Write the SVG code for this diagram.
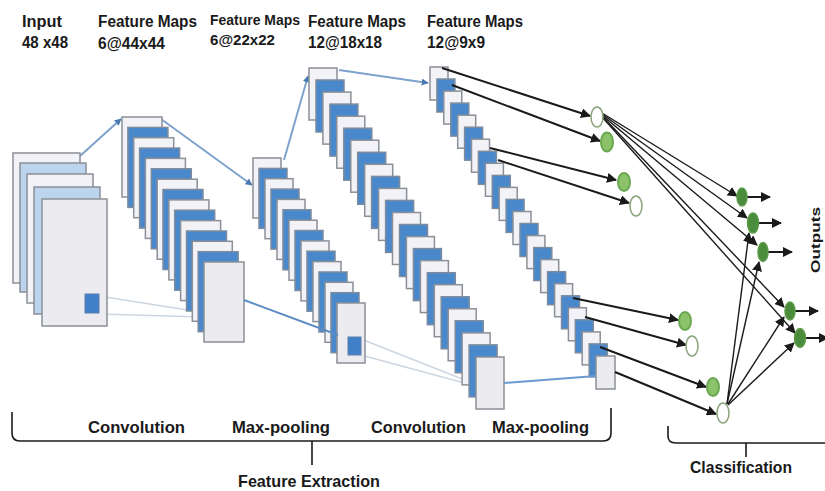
<svg xmlns="http://www.w3.org/2000/svg" width="825" height="491" viewBox="0 0 825 491">
<defs>
<style>
.t{font-family:"Liberation Sans Narrow","Liberation Sans",Arial,sans-serif;font-weight:bold;fill:#1a1a1a}
.w{fill:#f3f3f7;stroke:#8a9098;stroke-width:1.5}
.b{fill:#4a88cc;stroke:#7c8c9e;stroke-width:1.5}
.lb{fill:#bcd4ee;stroke:#8a9098;stroke-width:1.5}
.g{fill:#ececf0;stroke:#8a9098;stroke-width:1.5}
.sq{fill:#3f80c8;stroke:#5a7fa8;stroke-width:1}
.con{fill:none;stroke:#7ea2cc;stroke-width:2}
.faint{fill:none;stroke:#cdd6e0;stroke-width:1.5}
.blk{fill:none;stroke:#1a1a1a;stroke-width:2}
.thin{fill:none;stroke:#1a1a1a;stroke-width:1.4}
.nw{fill:#ffffff;stroke:#8aa47a;stroke-width:1.5}
.ng{fill:#8cc26a;stroke:#6aa850;stroke-width:2}
.no{fill:#4a8c3c;stroke:#5b9a48;stroke-width:1.5}
.br{fill:none;stroke:#1a1a1a;stroke-width:1.6}
</style>
<marker id="ab" viewBox="0 0 10 10" refX="9" refY="5" markerWidth="10" markerHeight="10" markerUnits="userSpaceOnUse" orient="auto"><path d="M0,0 L10,5 L0,10 z" fill="#1a1a1a"/></marker>
<marker id="abl" viewBox="0 0 10 10" refX="9" refY="5" markerWidth="7" markerHeight="7" markerUnits="userSpaceOnUse" orient="auto"><path d="M0,0 L10,5 L0,10 z" fill="#4a78b0"/></marker>
</defs>
<rect width="825" height="491" fill="#ffffff"/>

<g id="labels-top">
<text class="t" x="22" y="27" font-size="16" textLength="40" lengthAdjust="spacingAndGlyphs">Input</text>
<text class="t" x="22" y="48" font-size="16" textLength="46" lengthAdjust="spacingAndGlyphs">48 x48</text>
<text class="t" x="98" y="27" font-size="16" textLength="99" lengthAdjust="spacingAndGlyphs">Feature Maps</text>
<text class="t" x="98" y="49" font-size="16" textLength="67" lengthAdjust="spacingAndGlyphs">6@44x44</text>
<text class="t" x="210" y="25" font-size="14" textLength="90" lengthAdjust="spacingAndGlyphs">Feature Maps</text>
<text class="t" x="210" y="45" font-size="14" textLength="65" lengthAdjust="spacingAndGlyphs">6@22x22</text>
<text class="t" x="308" y="27" font-size="16" textLength="98" lengthAdjust="spacingAndGlyphs">Feature Maps</text>
<text class="t" x="308" y="48" font-size="16" textLength="74" lengthAdjust="spacingAndGlyphs">12@18x18</text>
<text class="t" x="427" y="27" font-size="16" textLength="96" lengthAdjust="spacingAndGlyphs">Feature Maps</text>
<text class="t" x="427" y="48" font-size="16" textLength="58" lengthAdjust="spacingAndGlyphs">12@9x9</text>
</g>

<g id="connectors">
<line class="faint" x1="99" y1="296" x2="238" y2="318"/>
<line class="faint" x1="99" y1="314" x2="238" y2="318"/>
<line class="faint" x1="361" y1="339" x2="490" y2="390"/>
<line class="faint" x1="361" y1="355" x2="490" y2="390"/>
<line class="con" x1="80" y1="156" x2="121" y2="119" marker-end="url(#abl)"/>
<line class="con" x1="161" y1="119" x2="252" y2="185" marker-end="url(#abl)"/>
<line class="con" x1="284" y1="160" x2="308" y2="76" marker-end="url(#abl)"/>
<line class="con" x1="339" y1="70" x2="428" y2="83" marker-end="url(#abl)"/>
</g>

<g id="input">
<rect class="w" x="13" y="153" width="67" height="130"/>
<rect class="lb" x="20" y="163" width="66" height="129"/>
<rect class="w" x="27" y="174" width="66" height="129"/>
<rect class="lb" x="34" y="187" width="66" height="127"/>
<rect class="g" x="42" y="199" width="65" height="127"/>
<rect class="sq" x="85" y="294" width="14" height="19"/>
</g>

<g id="conv1">
<rect class="w" x="122" y="117" width="40" height="80"/>
<rect class="b" x="127.9" y="127.4" width="40" height="80"/>
<rect class="w" x="133.7" y="137.7" width="40" height="80"/>
<rect class="b" x="139.6" y="148.1" width="40" height="80"/>
<rect class="w" x="145.4" y="158.4" width="40" height="80"/>
<rect class="b" x="151.3" y="168.8" width="40" height="80"/>
<rect class="w" x="157.2" y="179.2" width="40" height="80"/>
<rect class="b" x="163" y="189.5" width="40" height="80"/>
<rect class="w" x="168.9" y="199.9" width="40" height="80"/>
<rect class="b" x="174.7" y="210.2" width="40" height="80"/>
<rect class="w" x="180.6" y="220.6" width="40" height="80"/>
<rect class="b" x="186.5" y="231" width="40" height="80"/>
<rect class="w" x="192.3" y="241.3" width="40" height="80"/>
<rect class="b" x="198.2" y="251.7" width="40" height="80"/>
<rect class="g" x="204" y="262" width="40" height="80"/>
</g>

<g id="pool1">
<rect class="w" x="253" y="158" width="28" height="60"/>
<rect class="b" x="259" y="168.4" width="28" height="60"/>
<rect class="w" x="265" y="178.7" width="28" height="60"/>
<rect class="b" x="271" y="189.1" width="28" height="60"/>
<rect class="w" x="277" y="199.4" width="28" height="60"/>
<rect class="b" x="283" y="209.8" width="28" height="60"/>
<rect class="w" x="289" y="220.2" width="28" height="60"/>
<rect class="b" x="295" y="230.5" width="28" height="60"/>
<rect class="w" x="301" y="240.9" width="28" height="60"/>
<rect class="b" x="307" y="251.2" width="28" height="60"/>
<rect class="w" x="313" y="261.6" width="28" height="60"/>
<rect class="b" x="319" y="272" width="28" height="60"/>
<rect class="w" x="325" y="282.3" width="28" height="60"/>
<rect class="b" x="331" y="292.7" width="28" height="60"/>
<rect class="g" x="337" y="303" width="28" height="60"/>
<rect class="sq" x="348" y="337" width="13" height="18"/>
</g>

<g id="conv2">
<rect class="w" x="309" y="68" width="28" height="52"/>
<rect class="b" x="316" y="80" width="28" height="52"/>
<rect class="w" x="322.9" y="92.1" width="28" height="52"/>
<rect class="b" x="329.9" y="104.1" width="28" height="52"/>
<rect class="w" x="336.8" y="116.2" width="28" height="52"/>
<rect class="b" x="343.8" y="128.2" width="28" height="52"/>
<rect class="w" x="350.8" y="140.2" width="28" height="52"/>
<rect class="b" x="357.7" y="152.3" width="28" height="52"/>
<rect class="w" x="364.7" y="164.3" width="28" height="52"/>
<rect class="b" x="371.6" y="176.4" width="28" height="52"/>
<rect class="w" x="378.6" y="188.4" width="28" height="52"/>
<rect class="b" x="385.6" y="200.4" width="28" height="52"/>
<rect class="w" x="392.5" y="212.5" width="28" height="52"/>
<rect class="b" x="399.5" y="224.5" width="28" height="52"/>
<rect class="w" x="406.4" y="236.6" width="28" height="52"/>
<rect class="b" x="413.4" y="248.6" width="28" height="52"/>
<rect class="w" x="420.4" y="260.6" width="28" height="52"/>
<rect class="b" x="427.3" y="272.7" width="28" height="52"/>
<rect class="w" x="434.3" y="284.7" width="28" height="52"/>
<rect class="b" x="441.2" y="296.8" width="28" height="52"/>
<rect class="w" x="448.2" y="308.8" width="28" height="52"/>
<rect class="b" x="455.2" y="320.8" width="28" height="52"/>
<rect class="w" x="462.1" y="332.9" width="28" height="52"/>
<rect class="b" x="469.1" y="344.9" width="28" height="52"/>
<rect class="g" x="476" y="357" width="28" height="52"/>
</g>

<g id="pool2">
<rect class="w" x="430" y="67" width="18" height="33"/>
<rect class="b" x="436.9" y="79" width="18" height="33"/>
<rect class="w" x="443.8" y="91.1" width="18" height="33"/>
<rect class="b" x="450.8" y="103.1" width="18" height="33"/>
<rect class="w" x="457.7" y="115.2" width="18" height="33"/>
<rect class="b" x="464.6" y="127.2" width="18" height="33"/>
<rect class="w" x="471.5" y="139.2" width="18" height="33"/>
<rect class="b" x="478.4" y="151.3" width="18" height="33"/>
<rect class="w" x="485.4" y="163.3" width="18" height="33"/>
<rect class="b" x="492.3" y="175.4" width="18" height="33"/>
<rect class="w" x="499.2" y="187.4" width="18" height="33"/>
<rect class="b" x="506.1" y="199.4" width="18" height="33"/>
<rect class="w" x="513" y="211.5" width="18" height="33"/>
<rect class="b" x="520" y="223.5" width="18" height="33"/>
<rect class="w" x="526.9" y="235.6" width="18" height="33"/>
<rect class="b" x="533.8" y="247.6" width="18" height="33"/>
<rect class="w" x="540.7" y="259.6" width="18" height="33"/>
<rect class="b" x="547.6" y="271.7" width="18" height="33"/>
<rect class="w" x="554.6" y="283.7" width="18" height="33"/>
<rect class="b" x="561.5" y="295.8" width="18" height="33"/>
<rect class="w" x="568.4" y="307.8" width="18" height="33"/>
<rect class="b" x="575.3" y="319.8" width="18" height="33"/>
<rect class="w" x="582.2" y="331.9" width="18" height="33"/>
<rect class="b" x="589.2" y="343.9" width="18" height="33"/>
<rect class="g" x="596" y="356" width="19" height="33"/>
</g>

<g id="connectors-2">
<line class="con" x1="244" y1="300" x2="338" y2="335" style="stroke:#5b8cc4"/>
<line class="con" x1="504" y1="383" x2="596" y2="376" style="stroke:#6a9bd0"/>
<line class="blk" x1="442" y1="68" x2="590" y2="116" marker-end="url(#ab)"/>
<line class="blk" x1="452" y1="85" x2="600" y2="141" marker-end="url(#ab)"/>
<line class="blk" x1="490" y1="148" x2="616" y2="180" marker-end="url(#ab)"/>
<line class="blk" x1="498" y1="160" x2="629" y2="203" marker-end="url(#ab)"/>
<line class="blk" x1="573" y1="298" x2="678" y2="320" marker-end="url(#ab)"/>
<line class="blk" x1="585" y1="317" x2="686" y2="345" marker-end="url(#ab)"/>
<line class="blk" x1="600" y1="347" x2="706" y2="387" marker-end="url(#ab)"/>
<line class="blk" x1="615" y1="372" x2="716" y2="414" marker-end="url(#ab)"/>
<line class="thin" x1="602" y1="113" x2="737" y2="196" marker-end="url(#ab)"/>
<line class="thin" x1="602" y1="114" x2="747" y2="218" marker-end="url(#ab)"/>
<line class="thin" x1="603" y1="116" x2="757" y2="245" marker-end="url(#ab)"/>
<line class="thin" x1="603" y1="117" x2="784" y2="307" marker-end="url(#ab)"/>
<line class="thin" x1="603" y1="118" x2="795" y2="333" marker-end="url(#ab)"/>
<line class="thin" x1="727" y1="404" x2="749" y2="233" marker-end="url(#ab)"/>
<line class="thin" x1="727" y1="404" x2="759" y2="262" marker-end="url(#ab)"/>
<line class="thin" x1="728" y1="404" x2="784" y2="317" marker-end="url(#ab)"/>
<line class="thin" x1="728" y1="405" x2="794" y2="343" marker-end="url(#ab)"/>
<line class="blk" x1="747" y1="197" x2="770" y2="197" marker-end="url(#ab)"/>
<line class="blk" x1="758" y1="223" x2="781" y2="223" marker-end="url(#ab)"/>
<line class="blk" x1="768" y1="252" x2="792" y2="252" marker-end="url(#ab)"/>
<line class="blk" x1="795" y1="311" x2="818" y2="311" marker-end="url(#ab)"/>
<line class="blk" x1="805" y1="338" x2="828" y2="338" marker-end="url(#ab)"/>
</g>

<g id="hidden-nodes">
<ellipse class="nw" cx="597" cy="117" rx="6" ry="10"/>
<ellipse class="ng" cx="607" cy="142" rx="6" ry="9.5"/>
<ellipse class="ng" cx="624" cy="182" rx="6" ry="9"/>
<ellipse class="nw" cx="636" cy="206" rx="6" ry="10"/>
<ellipse class="ng" cx="685" cy="321" rx="6" ry="9"/>
<ellipse class="nw" cx="692" cy="346" rx="6" ry="10"/>
<ellipse class="ng" cx="713" cy="387" rx="6" ry="9"/>
<ellipse class="nw" cx="723" cy="413" rx="6" ry="10"/>
</g>

<g id="output-nodes">
<ellipse class="no" cx="742" cy="197" rx="5" ry="9"/>
<ellipse class="no" cx="753" cy="223" rx="5.5" ry="10"/>
<ellipse class="no" cx="763" cy="252" rx="5" ry="9.5"/>
<ellipse class="no" cx="790" cy="311" rx="5" ry="9"/>
<ellipse class="no" cx="800" cy="338" rx="5.5" ry="9.5"/>
</g>

<text class="t" font-size="13" text-anchor="middle" textLength="66" lengthAdjust="spacingAndGlyphs" transform="translate(820,240) rotate(-90)">Outputs</text>

<g id="brackets">
<path class="br" d="M12,412 V433 Q12,441 20,441 H603 Q611,441 611,433 V408 M312,441 V465"/>
<path class="br" d="M668,426 V436 Q668,443 676,443 H825 M746,443 V457"/>
</g>

<g id="labels-bottom">
<text class="t" x="88" y="433" font-size="17" textLength="97" lengthAdjust="spacingAndGlyphs">Convolution</text>
<text class="t" x="232" y="433" font-size="17" textLength="98" lengthAdjust="spacingAndGlyphs">Max-pooling</text>
<text class="t" x="371" y="433" font-size="17" textLength="95" lengthAdjust="spacingAndGlyphs">Convolution</text>
<text class="t" x="492" y="433" font-size="17" textLength="97" lengthAdjust="spacingAndGlyphs">Max-pooling</text>
<text class="t" x="238" y="487" font-size="17" textLength="142" lengthAdjust="spacingAndGlyphs">Feature Extraction</text>
<text class="t" x="690" y="473" font-size="16" textLength="102" lengthAdjust="spacingAndGlyphs">Classification</text>
</g>
</svg>
